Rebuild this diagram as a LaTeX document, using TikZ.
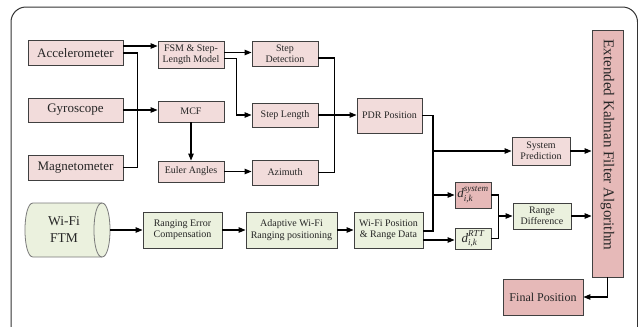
\documentclass[tikz,border=0pt]{standalone}
\usepackage{amsmath}
\usepackage{fontspec}
\setmainfont{Liberation Serif}
\usetikzlibrary{arrows.meta}
\definecolor{pinkA}{HTML}{F2DCDB}
\definecolor{pinkB}{HTML}{E6B9B8}
\definecolor{greenA}{HTML}{EBF1DE}
\definecolor{edgecol}{HTML}{404040}
\newcommand{\dvar}[1]{$\textit{d}^{\textit{#1}}_{\textit{i,k}}$}
\begin{document}
\begin{tikzpicture}[x=1pt,y=-1pt,
  box/.style={draw=edgecol, line width=0.9pt, align=center, inner sep=1pt,
    font=\fontsize{10}{12.5}\selectfont, text=black!85},
  pbox/.style={box, fill=pinkA},
  dbox/.style={box, fill=pinkB},
  gbox/.style={box, fill=greenA},
  big/.style={font=\fontsize{13}{15}\selectfont},
  conn/.style={line width=1.1pt, draw=black},
  arr/.style={conn, -{Triangle[length=7pt,width=5.5pt]}},
]
\useasboundingbox (0,0) rectangle (638,327);
\draw[line width=1pt, draw=black!80, rounded corners=15pt] (11,7) rectangle (637.5,345);

% sensors
\node[pbox, big, minimum width=95pt, minimum height=25pt] (acc) at (75.5,53) {Accelerometer};
\node[pbox, big, minimum width=95pt, minimum height=24pt] (gyro) at (75.5,110) {Gyroscope};
\node[pbox, big, minimum width=95pt, minimum height=25pt] (mag) at (75.5,167.5) {Magnetometer};

% second column
\node[pbox, minimum width=66pt, minimum height=27pt] (fsm) at (191,54.5) {FSM \& Step-\\[-1.5pt]Length Model};
\node[pbox, minimum width=66pt, minimum height=21pt] (mcf) at (191,111.5) {MCF};
\node[pbox, minimum width=66pt, minimum height=21pt] (euler) at (191,171.5) {Euler Angles};

% third column
\node[pbox, minimum width=66pt, minimum height=25pt] (stepdet) at (285,53.5) {Step\\[-1.5pt]Detection};
\node[pbox, minimum width=66pt, minimum height=24pt] (steplen) at (285,115) {Step Length};
\node[pbox, minimum width=66pt, minimum height=25pt] (azi) at (285,172.5) {Azimuth};

\node[pbox, minimum width=65pt, minimum height=35pt] (pdr) at (389.5,115.5) {PDR Position};
\node[pbox, minimum width=58pt, minimum height=28pt] (syspred) at (541,151) {System\\[-1.5pt]Prediction};

% EKF
\node[dbox, minimum width=31pt, minimum height=247pt] (ekf) at (607.5,153.5) {};
\node[rotate=-90, font=\fontsize{15}{18}\selectfont, text=black!85, inner sep=0pt] (ekftxt) at (607.5,145) {Extended Kalman Filter Algorithm};

\node[dbox, minimum width=36pt, minimum height=26pt, inner sep=0pt, font=\fontsize{13}{14}\selectfont] (dsys) at (473,195) {\dvar{system}};
\node[gbox, minimum width=36pt, minimum height=21pt, inner sep=0pt, font=\fontsize{13}{14}\selectfont] (drtt) at (473,238.5) {\dvar{RTT}};
\node[gbox, minimum width=58pt, minimum height=26pt] (rdiff) at (542,216) {Range\\[-1.5pt]Difference};
\node[dbox, minimum width=80pt, minimum height=36pt, font=\fontsize{12}{14}\selectfont] (final) at (543,297) {Final Position};

% Wi-Fi chain
\node[gbox, minimum width=69pt, minimum height=36pt] (wifipos) at (388.5,230) {Wi-Fi Position\\[-1pt]\& Range Data};
\node[gbox, minimum width=91pt, minimum height=36pt] (adapt) at (291.5,230) {Adaptive Wi-Fi\\[-1pt]Ranging positioning};
\node[gbox, minimum width=79pt, minimum height=36pt] (rerr) at (182.5,230) {Ranging Error\\[-1pt]Compensation};

% Wi-Fi FTM cylinder
\path[draw=edgecol!70, fill=greenA, line width=0.8pt]
  (33,203) -- (102,203) .. controls (112.7,203) and (112.7,257) .. (102,257)
  -- (33,257) .. controls (22.3,257) and (22.3,203) .. (33,203) -- cycle;
\draw[draw=edgecol!70, line width=0.8pt] (102,203) .. controls (91.3,203) and (91.3,257) .. (102,257);
\node[font=\fontsize{13.5}{17}\selectfont, align=center, text=black!85, inner sep=0pt,
  minimum width=92pt, minimum height=54pt] (ftm) at (64,230) {Wi-Fi\\FTM};

% connectors
\coordinate (a1) at ([yshift=7pt]acc.east);
\draw[arr] (a1) -- (a1 -| fsm.west);
\draw[conn] (acc.east) -| ([xshift=14pt]mag.east) -- (mag.east);
\draw[arr] (gyro.east) -- (gyro.east -| mcf.west);

\coordinate (f1) at ([yshift=2pt]fsm.east);
\draw[arr] (f1) -- (f1 -| stepdet.west);
\draw[arr] ([yshift=-4pt]fsm.east) -- ++(12,0) |- (steplen.west);
\draw[arr] (mcf.south) -- (euler.north);
\draw[arr] (euler.east) -- (euler.east -| azi.west);

\draw[conn] ([yshift=-4.5pt]stepdet.east) -- ++(16,0) |- (azi.east);
\draw[arr] (steplen.east) -- (steplen.east -| pdr.west);

\coordinate (vx) at (433,0);
\coordinate (w1) at ([yshift=-1pt]wifipos.east);
\draw[conn] (pdr.east) -| (vx |- w1) -- (w1);
\draw[arr] (vx |- syspred.west) -- (syspred.west);
\draw[arr] (vx |- dsys.west) -- (dsys.west);
\coordinate (w2) at ([yshift=-10pt]wifipos.east);
\draw[arr] (w2) -- (w2 -| drtt.west);

\draw[conn] (dsys.east) -- ++(7,0) coordinate (dx) |- (drtt.east);
\draw[arr] (dx |- rdiff.west) -- (rdiff.west);
\draw[arr] (rdiff.east) -- (rdiff.east -| ekf.west);
\draw[arr] (syspred.east) -- (syspred.east -| ekf.west);
\draw[arr] (ekf.south) |- (final.east);

\draw[arr] (ftm.east) -- (rerr.west);
\draw[arr] (rerr.east) -- (adapt.west);
\draw[arr] (adapt.east) -- (wifipos.west);
\end{tikzpicture}
\end{document}
